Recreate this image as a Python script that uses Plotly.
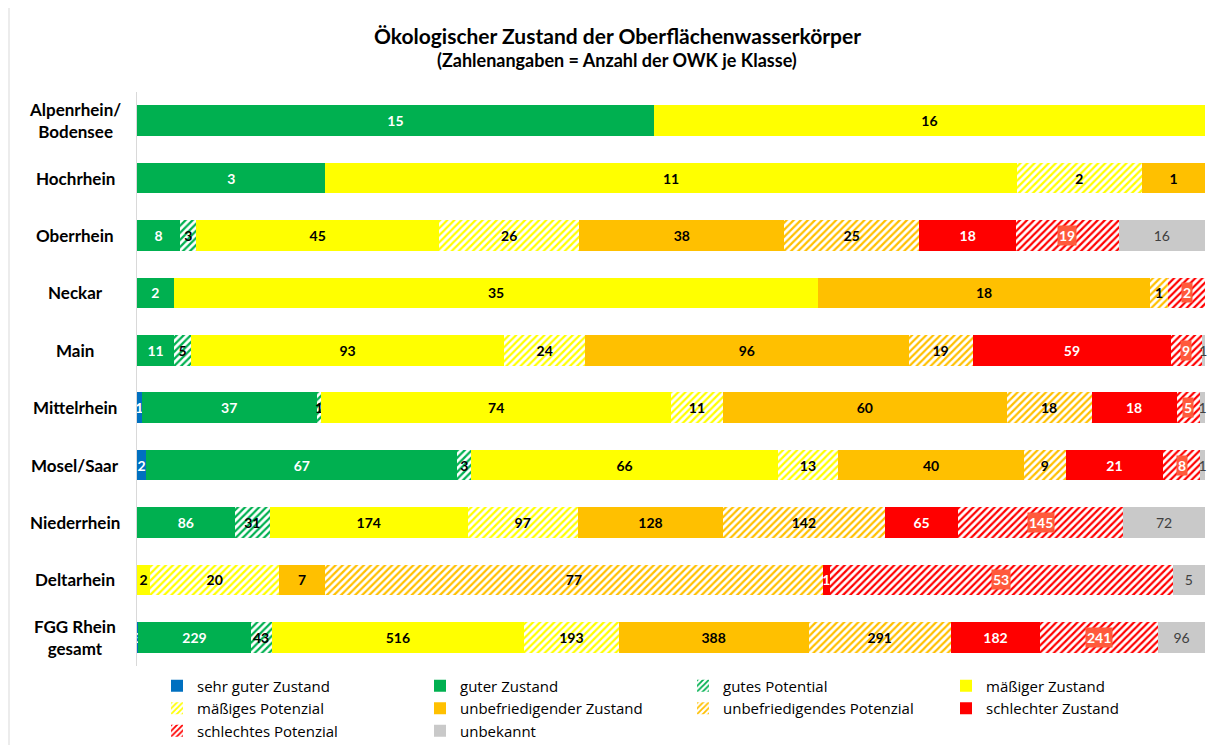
import plotly.graph_objects as go

rows = ["Alpenrhein/<br>Bodensee", "Hochrhein", "Oberrhein", "Neckar", "Main",
        "Mittelrhein", "Mosel/Saar", "Niederrhein", "Deltarhein", "FGG Rhein<br>gesamt"]

series_names = ["sehr guter Zustand", "guter Zustand", "gutes Potential", "mäßiger Zustand",
                "mäßiges Potenzial", "unbefriedigender Zustand", "unbefriedigendes Potenzial",
                "schlechter Zustand", "schlechtes Potenzial", "unbekannt"]

sehr_guter_zustand = [None, None, None, None, None, 1, 2, None, None, 3]
guter_zustand = [15, 3, 8, 2, 11, 37, 67, 86, None, 229]
gutes_potential = [None, None, 3, None, 5, 1, 3, 31, None, 43]
maessiger_zustand = [16, 11, 45, 35, 93, 74, 66, 174, 2, 516]
maessiges_potenzial = [None, 2, 26, None, 24, 11, 13, 97, 20, 193]
unbefriedigender_zustand = [None, 1, 38, 18, 96, 60, 40, 128, 7, 388]
unbefriedigendes_potenzial = [None, None, 25, 1, 19, 18, 9, 142, 77, 291]
schlechter_zustand = [None, None, 18, None, 59, 18, 21, 65, 1, 182]
schlechtes_potenzial = [None, None, 19, 2, 9, 5, 8, 145, 53, 241]
unbekannt = [None, None, 16, None, 1, 1, 1, 72, 5, 96]

series_values = [sehr_guter_zustand, guter_zustand, gutes_potential, maessiger_zustand,
                 maessiges_potenzial, unbefriedigender_zustand, unbefriedigendes_potenzial,
                 schlechter_zustand, schlechtes_potenzial, unbekannt]

colors = ["#0070C0", "#00B050", "#00B050", "#FFFF00", "#FFFF00", "#FFC000", "#FFC000",
          "#FF0000", "#FF0000", "#C9C9C9"]
hatched = [False, False, True, False, True, False, True, False, True, False]
text_colors = ["white", "white", "black", "black", "black", "black", "black",
               "white", "white", "#404040"]
text_weights = ["bold"] * 9 + ["normal"]

FONT = "Lato, 'Open Sans', sans-serif"
LEGEND_FONT = "'Open Sans', Lato, sans-serif"

# the page body has an 8px margin; figure coordinates = page coordinates - 8
FIG_W, FIG_H = 1207, 737
PLOT_L, PLOT_T, PLOT_R, PLOT_B = 129, 84, 10, 79
PLOT_W, PLOT_H = FIG_W - PLOT_L - PLOT_R, FIG_H - PLOT_T - PLOT_B

fig = go.Figure()
for i, (name, vals) in enumerate(zip(series_names, series_values)):
    marker = dict(color=colors[i], line=dict(width=0))
    if hatched[i]:
        marker["pattern"] = dict(shape="/", fgcolor=colors[i], bgcolor="white",
                                 size=5, solidity=0.45, fillmode="replace")
    is_red_hatch = (name == "schlechtes Potenzial")
    texts = ["" if (v is None or is_red_hatch) else str(v) for v in vals]
    fig.add_trace(go.Bar(
        y=rows, x=vals, name=name, orientation="h", marker=marker,
        text=texts, textposition="inside", insidetextanchor="middle", textangle=0,
        textfont=dict(color=text_colors[i], size=14, family=FONT, weight=text_weights[i]),
        cliponaxis=False, hoverinfo="name+x",
    ))

annotations = []
# labels with background box for "schlechtes Potenzial" (positions derived from data)
idx_red = series_names.index("schlechtes Potenzial")
for r, row in enumerate(rows):
    vals = [(s[r] or 0) for s in series_values]
    total = sum(vals)
    v = vals[idx_red]
    if v:
        start = sum(vals[:idx_red])
        center = (start + v / 2) / total * 100
        annotations.append(dict(
            x=center, y=row, xref="x", yref="y", text=str(v), showarrow=False,
            font=dict(color="white", size=14, family=FONT, weight="bold"),
            bgcolor="#FF5A3C", borderpad=1,
        ))

# centered category labels
for row in rows:
    annotations.append(dict(
        x=(67 - PLOT_L) / PLOT_W, y=row, xref="paper", yref="y", text=row, showarrow=False,
        xanchor="center", align="center",
        font=dict(color="black", size=17, family=FONT, weight="bold"),
    ))

title_x = (609 - PLOT_L) / PLOT_W
annotations.append(dict(
    x=title_x, y=1 + (PLOT_T - 27) / PLOT_H, xref="paper", yref="paper",
    xanchor="center", yanchor="middle",
    text="<b>Ökologischer Zustand der Oberflächenwasserkörper</b>",
    font=dict(size=21, family=FONT, color="black"), showarrow=False,
))
annotations.append(dict(
    x=title_x, y=1 + (PLOT_T - 52) / PLOT_H, xref="paper", yref="paper",
    xanchor="center", yanchor="middle",
    text="<b>(Zahlenangaben = Anzahl der OWK je Klasse)</b>",
    font=dict(size=18, family=FONT, color="black"), showarrow=False,
))

fig.update_layout(
    barmode="stack", barnorm="percent", bargap=0.47,
    width=FIG_W, height=FIG_H,
    margin=dict(l=PLOT_L, r=PLOT_R, t=PLOT_T, b=PLOT_B, autoexpand=False),
    paper_bgcolor="white", plot_bgcolor="white",
    font=dict(family=FONT, size=15, color="black"),
    showlegend=True,
    legend=dict(orientation="h", x=(149 - PLOT_L) / PLOT_W, y=-0.006,
                xanchor="left", yanchor="top",
                entrywidth=218, entrywidthmode="pixels", traceorder="normal",
                font=dict(size=15, family=LEGEND_FONT), itemwidth=30),
    uniformtext=dict(minsize=14, mode="show"),
    xaxis=dict(range=[0, 100.0001], showticklabels=False, showgrid=False, zeroline=False,
               showline=False, fixedrange=True),
    yaxis=dict(autorange="reversed", showticklabels=False, showgrid=False,
               showline=True, linecolor="#D9D9D9", linewidth=1, ticks=""),
    annotations=annotations,
)

# chart frame line at left edge
fig.add_shape(type="line", xref="paper", yref="paper",
              x0=(1 - PLOT_L) / PLOT_W, x1=(1 - PLOT_L) / PLOT_W,
              y0=-PLOT_B / PLOT_H, y1=1 + PLOT_T / PLOT_H,
              line=dict(color="#D9D9D9", width=1))

fig.write_html("out.html")
